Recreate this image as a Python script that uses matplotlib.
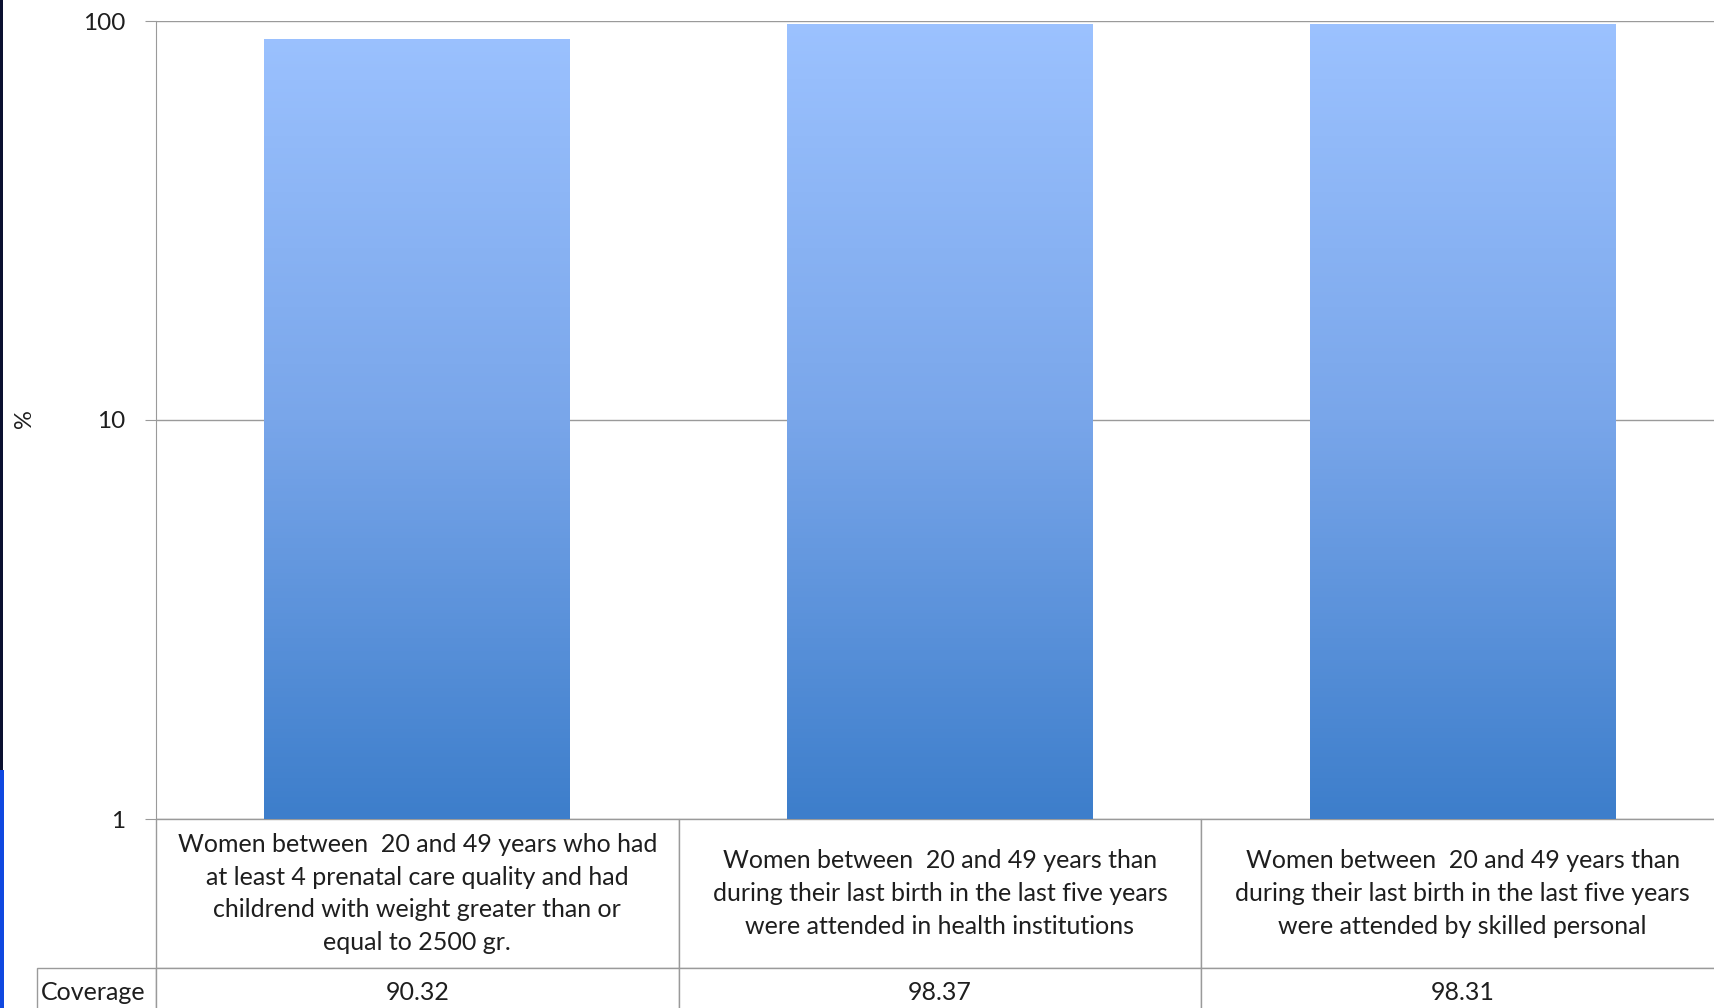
import matplotlib
matplotlib.use("Agg")
import matplotlib.pyplot as plt
import numpy as np
from matplotlib.colors import LinearSegmentedColormap
from matplotlib.patches import Rectangle

categories = [
    "Women between  20 and 49 years who had\nat least 4 prenatal care quality and had\nchildrend with weight greater than or\nequal to 2500 gr.",
    "Women between  20 and 49 years than\nduring their last birth in the last five years\nwere attended in health institutions",
    "Women between  20 and 49 years than\nduring their last birth in the last five years\nwere attended by skilled personal",
]
coverage = [90.32, 98.37, 98.31]
row_label = "Coverage"
y_ticks = [1, 10, 100]

plt.rcParams['font.family'] = ['Lato', 'DejaVu Sans']
W, H = 1715, 1008
fig = plt.figure(figsize=(W / 100, H / 100), dpi=100)
fig.patch.set_facecolor("white")

ax_l, ax_r, ax_t, ax_b = 156, 1724, 21, 819
aw, ah = ax_r - ax_l, ax_b - ax_t
ax = fig.add_axes([ax_l / W, 1 - ax_b / H, aw / W, ah / H])

grid_col = "#9a9a9a"
txt_col = "#1e1e1e"
x = np.arange(len(coverage))
bars = ax.bar(x, coverage, width=0.585, color="#6f9fe5", edgecolor="none", zorder=2)
ax.set_yscale("log")
ax.set_ylim(1, 100)
ax.set_xlim(-0.5, len(coverage) - 0.5)

# vertical gradient inside the bars
cmap = LinearSegmentedColormap.from_list("barfill", ["#3d7ecb", "#79a6ea", "#9cc2ff"])
grad = np.linspace(0, 1, 256).reshape(-1, 1)
for b in bars:
    im = ax.imshow(grad, cmap=cmap, origin="lower", aspect="auto",
                   extent=(0, 1, 0, 1), transform=ax.transAxes, zorder=3)
    im.set_clip_path(b)

ax.set_yticks(y_ticks)
ax.set_yticklabels([str(t) for t in y_ticks])
ax.yaxis.set_minor_locator(matplotlib.ticker.NullLocator())
ax.tick_params(axis="y", length=8, color=grid_col, labelsize=17.5, pad=14, labelcolor=txt_col)
ax.set_xticks([])
ax.grid(axis="y", color=grid_col, linewidth=1.0, zorder=0)
for s in ["top", "right", "bottom"]:
    ax.spines[s].set_visible(False)
ax.spines["left"].set_color(grid_col)
ax.set_ylabel("%", fontsize=17, color=txt_col)
ax.yaxis.set_label_coords((35 - ax_l) / aw, (ax_b - 419) / ah)

# data table under the chart: first column holds the row label
cell_text = [[""] + categories, [row_label] + ["%.2f" % v for v in coverage]]
tbl = ax.table(cellText=cell_text, cellLoc="center",
               bbox=[(37 - ax_l) / aw, -(149 + 48) / ah, (ax_r - 37) / aw, (149 + 48) / ah])
tbl.auto_set_font_size(False)
for (r, c), cell in tbl.get_celld().items():
    cell.set_edgecolor(grid_col)
    cell.set_linewidth(1.0)
    cell.set_height(149 if r == 0 else 48)
    cell.set_width(ax_l - 37 if c == 0 else 523)
    cell.get_text().set_fontsize(18)
    cell.get_text().set_color(txt_col)
    if r == 0:
        cell.get_text().set_linespacing(1.5)
    if r == 0 and c == 0:
        cell.visible_edges = ""
    if r == 1 and c == 0:
        cell.get_text().set_horizontalalignment("left")
        cell.PAD = 0.03

# slide border on the left edge
fig.patches.append(Rectangle((0, 1 - 770 / H), 3 / W, 770 / H, transform=fig.transFigure,
                             facecolor="#0a1030", edgecolor="none"))
fig.patches.append(Rectangle((0, 0), 4 / W, 1 - 770 / H, transform=fig.transFigure,
                             facecolor="#1048e0", edgecolor="none"))

fig.savefig("out.png", dpi=100)
